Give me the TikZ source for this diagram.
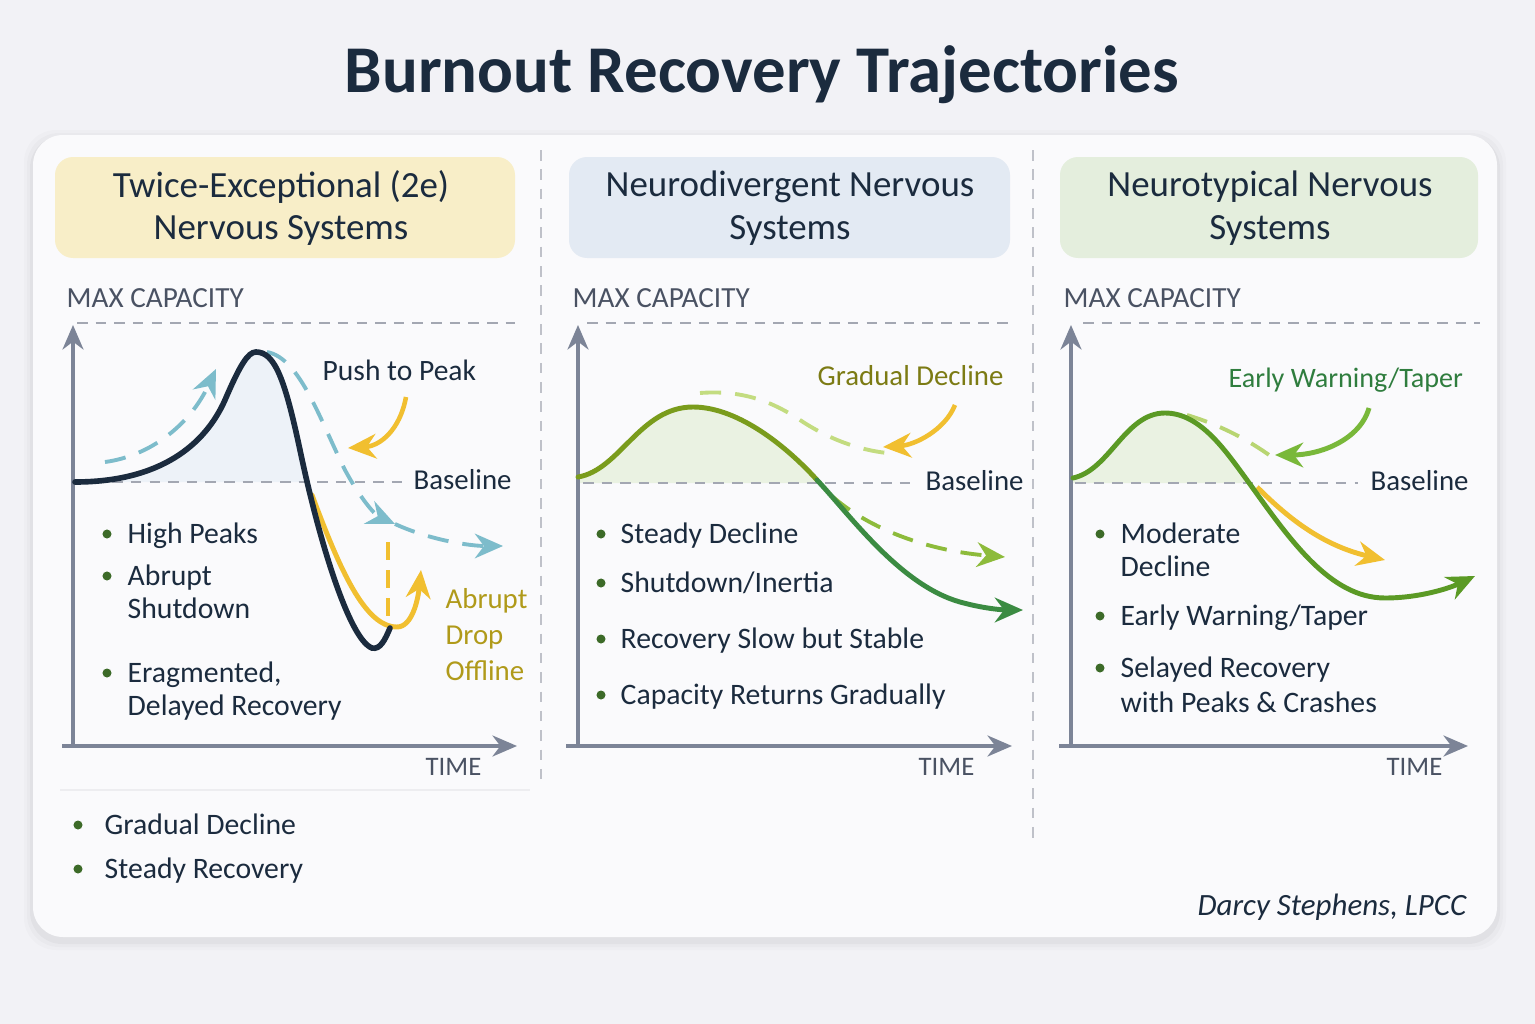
\documentclass[tikz,border=0pt]{standalone}
\usepackage{fontspec}
\setmainfont{Carlito}
\usetikzlibrary{arrows.meta,positioning}

\definecolor{pagebg}{HTML}{F2F2F6}
\definecolor{cardbg}{HTML}{FAFAFC}
\definecolor{ink}{HTML}{1B2B3E}
\definecolor{axisgray}{HTML}{7C8497}
\definecolor{labgray}{HTML}{4A5263}
\definecolor{dashgray}{HTML}{A3A7B2}
\definecolor{boxyellow}{HTML}{F8EEC8}
\definecolor{boxblue}{HTML}{E3EAF3}
\definecolor{boxgreen}{HTML}{E4EEDD}
\definecolor{teal}{HTML}{7DBCCB}
\definecolor{gold}{HTML}{F1BF30}
\definecolor{goldtext}{HTML}{B09A1A}
\definecolor{olivetext}{HTML}{7C7B14}
\definecolor{leaf}{HTML}{2F7D3E}
\definecolor{dotgreen}{HTML}{3C6A28}
\definecolor{olivecurve}{HTML}{7A9C1C}
\definecolor{greencurve}{HTML}{3B8B42}
\definecolor{midcurve}{HTML}{5B9A25}
\definecolor{paledash}{HTML}{C3DC80}
\definecolor{dashgreen}{HTML}{8DBB3B}
\definecolor{arrowgreen}{HTML}{79B83A}
\definecolor{fillblue}{HTML}{EDF2F8}
\definecolor{fillgreen}{HTML}{EAF2E2}

% bullet: name, dot x, text x, baseline y, text
\newcommand\bitem[5]{%
  \node[dot] (#1d) at (#2,#4-9) {};
  \node[bul] (#1) at (#3,#4) {#5};}

\begin{document}
\begin{tikzpicture}
[x=0.01cm,y=-0.01cm,>=Stealth,
 dot/.style={circle,fill=dotgreen,inner sep=0pt,minimum size=0.09cm},
 bul/.style={anchor=base west,inner sep=0pt,text=ink,font=\fontsize{8.45}{10}\selectfont},
 axislab/.style={anchor=base west,inner sep=0pt,text=labgray,font=\fontsize{8.3}{9}\selectfont},
 smalllab/.style={anchor=base west,inner sep=0pt,font=\fontsize{8.2}{10}\selectfont},
 headbox/.style={rounded corners=0.18cm},
 headtext/.style={align=center,text=ink,font=\fontsize{10.5}{12.2}\selectfont,inner sep=0pt},
 axisline/.style={draw=axisgray,line width=0.9pt,-{Stealth[length=7pt,width=6pt]}},
 guide/.style={draw=dashgray,line width=0.4pt,dash pattern=on 3pt off 2.3pt},
 sepline/.style={draw=dashgray!70,line width=0.4pt,dash pattern=on 3pt off 2.5pt},
 trend/.style={line width=1.4pt,line cap=round},
 dashtrend/.style={line width=1.1pt,dash pattern=on 6pt off 4pt},
 arrowtip/.style={-{Stealth[length=8pt,width=7pt]}}]

% page and card
\useasboundingbox (0,0) rectangle (1535,1024);
\fill[pagebg] (0,0) rectangle (1535,1024);
\foreach \s/\o in {9/0.015,6/0.02,3/0.03}
  \fill[black,opacity=\o,rounded corners=0.32cm] (33-\s,135-\s+4) rectangle (1497+\s,937+\s+4);
\fill[cardbg,rounded corners=0.3cm] (33,135) rectangle (1497,937);

% title
\node[anchor=base,text=ink,font=\bfseries\fontsize{19}{21}\selectfont] (title) at (762,93) {Burnout Recovery Trajectories};

% the header boxes
\fill[boxyellow,headbox] (55,157) rectangle (515,258);
\fill[boxblue,headbox] (569,157) rectangle (1010,258);
\fill[boxgreen,headbox] (1060,157) rectangle (1478,258);
\node[headtext] (headA) at (281,208) {Twice-Exceptional (2e)\\Nervous Systems};
\node[headtext] (headB) at (790,208) {Neurodivergent Nervous\\Systems};
\node[headtext] (headC) at (1270,208) {Neurotypical Nervous\\Systems};

% separators
\draw[sepline] (541,150) -- (541,780);
\draw[sepline] (1033,150) -- (1033,840);
\draw[draw=dashgray!20,line width=0.4pt] (60,790) -- (530,790);

%%%%% panel 1 : twice-exceptional
\fill[fillblue] (75,482) .. controls (160,482) and (205,445) .. (225,400) .. controls (240,365) and (248,352) .. (256,352) .. controls (275,352) and (285,380) .. (300,450) -- (307,482) -- cycle;
\draw[guide] (77,323) -- (515,323);
\draw[guide] (75,482) -- (402,482);
\draw[axisline] (73,746) -- (73,325);
\draw[axisline] (62,746) -- (517,746);
\node[axislab] (maxA) at (66,307) {MAX CAPACITY};
\node[axislab,font=\fontsize{7.6}{9}\selectfont] (timeA) at (425,775) {TIME};
\node[smalllab,text=ink] (baseA) at (413,489) {Baseline};

% push to peak
\draw[teal,dashtrend,arrowtip] (105,462) .. controls (150,456) and (190,425) .. (216,369);
\draw[teal,dashtrend,arrowtip] (267,352) .. controls (300,358) and (320,420) .. (345,470) .. controls (360,498) and (375,515) .. (395,524);
\draw[teal,dashtrend,arrowtip] (395,524) .. controls (430,540) and (470,546) .. (503,546);
\draw[gold,trend,arrowtip] (312,495) .. controls (340,570) and (365,627) .. (397,627) .. controls (412,627) and (418,600) .. (421,570);
\draw[gold,line width=1.1pt,dash pattern=on 5pt off 3pt] (388,542) -- (388,617);
\draw[ink,trend,line width=1.6pt] (75,482) .. controls (160,482) and (205,445) .. (225,400) .. controls (240,365) and (248,352) .. (256,352) .. controls (275,352) and (285,380) .. (300,450) .. controls (320,545) and (350,640) .. (372,648) .. controls (380,650) and (385,640) .. (390,628);
\draw[gold,line width=1.3pt,arrowtip] (406,397) .. controls (400,430) and (380,446) .. (348,448);
\node[smalllab,text=ink,font=\fontsize{8.4}{10}\selectfont] (pushA) at (322,380) {Push to Peak};
\node[smalllab,text=goldtext] (dropA1) at (445,608) {Abrupt};
\node[smalllab,text=goldtext] (dropA2) at (445,644) {Drop};
\node[smalllab,text=goldtext] (dropA3) at (445,680) {Offline};

% bullets
\bitem{bA1}{107}{127}{543}{High Peaks}
\bitem{bA2}{107}{127}{585}{Abrupt}
\node[bul] (bA2x) at (127,618) {Shutdown};
\bitem{bA3}{107}{127}{682}{Eragmented,}
\node[bul] (bA3x) at (127,715) {Delayed Recovery};
\bitem{bA4}{78}{104}{834}{Gradual Decline}
\bitem{bA5}{78}{104}{878}{Steady Recovery}

%%%%% panel 2 : neurodivergent
\fill[fillgreen] (578,477) .. controls (620,470) and (640,407) .. (693,407) .. controls (740,407) and (790,450) .. (817,480) -- (820,483) -- (578,483) -- cycle;
\draw[guide] (587,323) -- (1010,323);
\draw[guide] (583,483) -- (913,483);
\draw[axisline] (578,746) -- (578,325);
\draw[axisline] (566,746) -- (1012,746);
\node[axislab] (maxB) at (572,307) {MAX CAPACITY};
\node[axislab,font=\fontsize{7.6}{9}\selectfont] (timeB) at (918,775) {TIME};
\node[smalllab,text=ink] (baseB) at (925,490) {Baseline};

\draw[paledash,dashtrend] (700,393) .. controls (740,390) and (770,400) .. (800,420) .. controls (830,440) and (860,450) .. (887,453);
\draw[gold,line width=1.3pt,arrowtip] (955,405) .. controls (945,430) and (915,445) .. (883,447);
\draw[dashgreen,dashtrend,arrowtip] (833,497) .. controls (865,525) and (920,550) .. (1005,557);
\draw[olivecurve,trend] (578,477) .. controls (620,470) and (640,407) .. (693,407) .. controls (740,407) and (790,450) .. (817,480);
\draw[greencurve,trend,arrowtip] (817,480) .. controls (850,515) and (900,585) .. (960,602) .. controls (985,609) and (1005,610) .. (1023,610);
\node[smalllab,text=olivetext] (gradB) at (817,385) {Gradual Decline};

\bitem{bB1}{601}{620}{543}{Steady Decline}
\bitem{bB2}{601}{620}{592}{Shutdown/Inertia}
\bitem{bB3}{601}{620}{648}{Recovery Slow but Stable}
\bitem{bB4}{601}{620}{704}{Capacity Returns Gradually}

%%%%% panel 3 : neurotypical
\fill[fillgreen] (1073,478) .. controls (1110,470) and (1125,413) .. (1165,413) .. controls (1200,413) and (1225,450) .. (1247,480) -- (1249,483) -- (1073,483) -- cycle;
\draw[guide] (1083,323) -- (1480,323);
\draw[guide] (1075,483) -- (1358,483);
\draw[axisline] (1071,746) -- (1071,325);
\draw[axisline] (1059,746) -- (1468,746);
\node[axislab] (maxC) at (1063,307) {MAX CAPACITY};
\node[axislab,font=\fontsize{7.6}{9}\selectfont] (timeC) at (1386,775) {TIME};
\node[smalllab,text=ink] (baseC) at (1370,490) {Baseline};

\draw[paledash!80!dashgreen,dashtrend] (1187,415) .. controls (1220,425) and (1250,440) .. (1280,463);
\draw[arrowgreen,line width=1.4pt,arrowtip] (1369,408) .. controls (1360,440) and (1320,455) .. (1275,455);
\draw[gold,line width=1.4pt,arrowtip] (1257,487) .. controls (1285,515) and (1320,545) .. (1385,560);
\draw[midcurve,trend,arrowtip] (1073,478) .. controls (1110,470) and (1125,413) .. (1165,413) .. controls (1200,413) and (1225,450) .. (1247,480) .. controls (1290,540) and (1330,598) .. (1385,598) .. controls (1420,598) and (1450,588) .. (1475,576);
\node[smalllab,text=leaf,font=\fontsize{8}{10}\selectfont] (warnC) at (1228,387) {Early Warning/Taper};

\bitem{bC1}{1100}{1120}{543}{Moderate}
\node[bul] (bC1x) at (1120,576) {Decline};
\bitem{bC2}{1100}{1120}{625}{Early Warning/Taper}
\bitem{bC3}{1100}{1120}{677}{Selayed Recovery}
\node[bul] (bC3x) at (1120,712) {with Peaks \& Crashes};

% signature
\node[anchor=base east,inner sep=0pt,text=ink,font=\itshape\fontsize{8.8}{10}\selectfont] (sign) at (1467,915) {Darcy Stephens, LPCC};

\end{tikzpicture}
\end{document}
